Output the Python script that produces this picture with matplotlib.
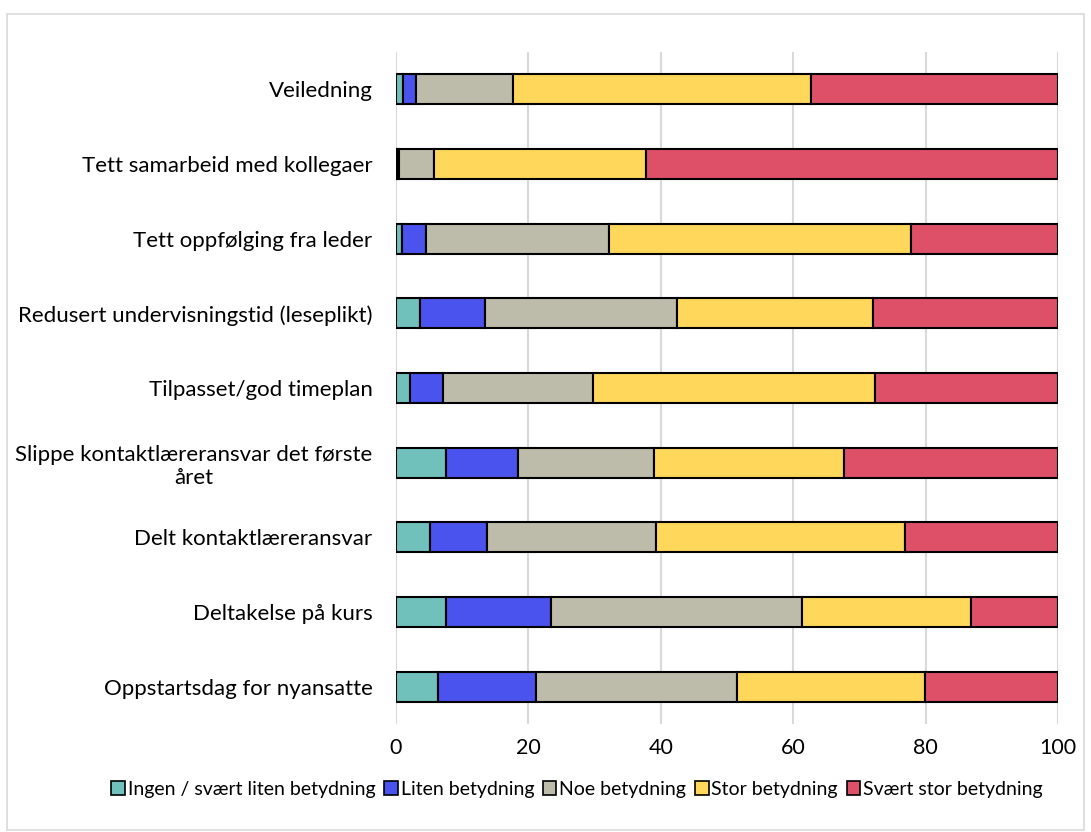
import numpy as np
import matplotlib
matplotlib.use("Agg")
from matplotlib import pyplot as plt
from matplotlib.patches import Rectangle

plt.rcParams['font.family'] = ['Lato', 'DejaVu Sans']

# categories, top to bottom
categories = [
    "Veiledning",
    "Tett samarbeid med kollegaer",
    "Tett oppfølging fra leder",
    "Redusert undervisningstid (leseplikt)",
    "Tilpasset/god timeplan",
    "Slippe kontaktlæreransvar det første\nåret",
    "Delt kontaktlæreransvar",
    "Deltakelse på kurs",
    "Oppstartsdag for nyansatte",
]

series_names = [
    "Ingen / svært liten betydning",
    "Liten betydning",
    "Noe betydning",
    "Stor betydning",
    "Svært stor betydning",
]

ingen = [1.0, 0.1, 0.9, 3.7, 2.1, 7.6, 5.2, 7.5, 6.4]
liten = [2.0, 0.4, 3.6, 9.8, 5.0, 10.8, 8.6, 15.9, 14.7]
noe = [14.7, 5.2, 27.7, 28.9, 22.7, 20.6, 25.5, 38.0, 30.4]
stor = [45.0, 32.0, 45.6, 29.6, 42.5, 28.6, 37.6, 25.4, 28.4]
svaert = [37.3, 62.3, 22.2, 28.0, 27.7, 32.4, 23.1, 13.2, 20.1]

colors = ["#70c0bb", "#4a53ee", "#bdbcaa", "#ffd75b", "#de5068"]

fig = plt.figure(figsize=(10.91, 8.32), dpi=100)
ax = fig.add_axes([396 / 1091, 1 - 724 / 832, (1058 - 396) / 1091, (724 - 52) / 832])

# chart border
fig.patches.append(Rectangle((7 / 1091, 2 / 832), 1077 / 1091, (832 - 16) / 832,
                             transform=fig.transFigure, fill=False,
                             edgecolor="#d9d9d9", linewidth=1.2, zorder=0))

y = np.arange(len(categories))
left = np.zeros(len(categories))
for name, vals, c in zip(series_names, [ingen, liten, noe, stor, svaert], colors):
    ax.barh(y, vals, left=left, height=0.4, color=c, edgecolor="black",
            linewidth=1.5, label=name, zorder=3)
    left += np.array(vals)

ax.set_xlim(0, 100)
ax.set_ylim(len(categories) - 0.5, -0.5)
ax.set_xticks(np.arange(0, 101, 20))
ax.set_yticks(y)
ax.set_yticklabels(categories, fontsize=16, ha="right", multialignment="center")
ax.tick_params(axis="x", labelsize=15.5, length=0, pad=10)
ax.tick_params(axis="y", length=0, pad=17)
ax.grid(axis="x", color="#d9d9d9", linewidth=1.5, zorder=0)
for s in ax.spines.values():
    s.set_visible(False)

leg = fig.legend(loc="center", bbox_to_anchor=(577 / 1091, 1 - 789 / 832), ncol=5,
                 frameon=False, fontsize=14, handlelength=0.7, handleheight=0.7,
                 handletextpad=0.15, columnspacing=0.45)
for h in leg.legend_handles:
    h.set_linewidth(1.2)

fig.savefig("out.png", dpi=100)
